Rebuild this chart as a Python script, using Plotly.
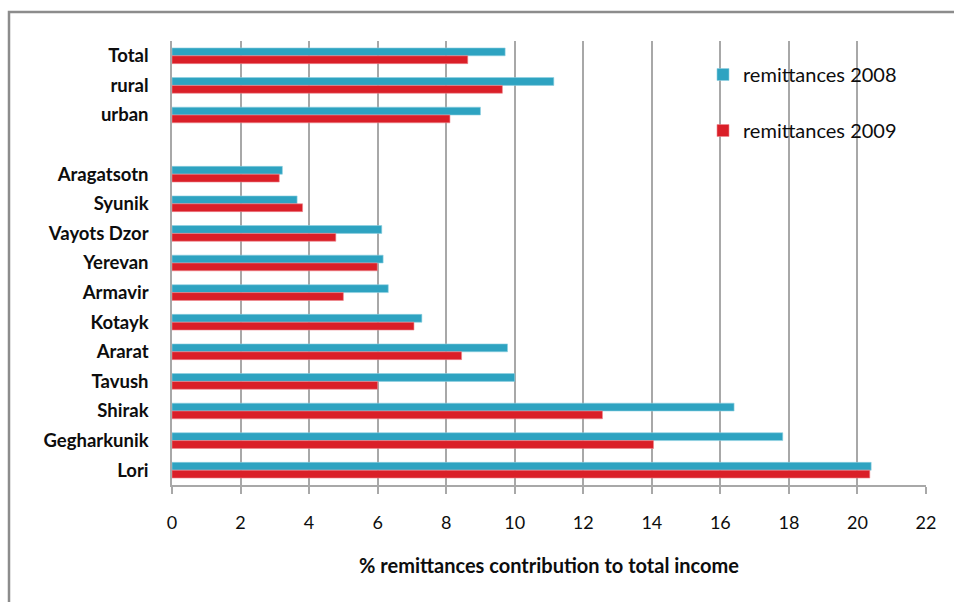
import plotly.graph_objects as go

# Regions / groupings, listed top to bottom (" " is a spacer row)
categories = ["Total", "rural", "urban", " ",
              "Aragatsotn", "Syunik", "Vayots Dzor", "Yerevan", "Armavir",
              "Kotayk", "Ararat", "Tavush", "Shirak", "Gegharkunik", "Lori"]

# % of total income coming from remittances
remit_2008 = [9.72, 11.14, 9.00, None,
              3.22, 3.65, 6.12, 6.16, 6.31,
              7.29, 9.79, 10.00, 16.40, 17.82, 20.40]
remit_2009 = [8.63, 9.64, 8.11, None,
              3.13, 3.81, 4.78, 5.99, 5.00,
              7.06, 8.45, 6.00, 12.56, 14.05, 20.36]

x_ticks = list(range(0, 23, 2))

BLUE = "#2ea3c1"
RED = "#da1f28"
GRID = "#a8a8a8"
FONT = "Lato"
TXT = "#0d0d0d"

fig = go.Figure()
fig.add_trace(go.Bar(
    y=categories, x=remit_2008, orientation="h", name="remittances 2008",
    marker=dict(color=BLUE, line=dict(color="#8fd0e0", width=0.6)),
    legendgroup="a",
))
fig.add_trace(go.Bar(
    y=categories, x=remit_2009, orientation="h", name="remittances 2009",
    marker=dict(color=RED, line=dict(color="#ef8a90", width=0.6)),
    legendgroup="b",
))

W, H = 954, 602
L, R, T, B = 172, 28, 41, 117
pw, ph = W - L - R, H - T - B

def px_x(x):
    return (x - L) / pw

def px_y(y):
    return 1 - (y - T) / ph

fig.update_layout(
    width=W, height=H,
    margin=dict(l=L, r=R, t=T, b=B),
    paper_bgcolor="white", plot_bgcolor="white",
    barmode="group", bargap=0.47, bargroupgap=0,
    font=dict(family=FONT, color=TXT),
    showlegend=True,
    legend=dict(
        x=px_x(703), y=px_y(55), xanchor="left", yanchor="top",
        bgcolor="rgba(0,0,0,0)", borderwidth=0,
        font=dict(family=FONT, size=20, color=TXT),
        tracegroupgap=27, itemwidth=30,
    ),
    xaxis=dict(
        range=[0, 22], tickvals=x_ticks, ticktext=[str(v) for v in x_ticks],
        showgrid=True, gridcolor=GRID, gridwidth=1.5,
        showline=True, linecolor=GRID, linewidth=1.5,
        ticks="outside", ticklen=7, tickcolor=GRID, tickwidth=1.5,
        ticklabelstandoff=14,
        tickfont=dict(family=FONT, size=18, color=TXT),
        zeroline=False,
        title=dict(text="<b>% remittances contribution to total income</b>",
                   font=dict(family=FONT, size=20, color=TXT), standoff=27),
    ),
    yaxis=dict(
        categoryorder="array", categoryarray=categories,
        autorange="reversed",
        showgrid=False, showline=True, linecolor=GRID, linewidth=1.5,
        ticks="", ticklabelstandoff=18,
        tickfont=dict(family=FONT, size=18.5, color=TXT, weight="bold"),
    ),
    shapes=[
        # white panel behind the legend, hiding the gridlines there
        dict(type="rect", xref="paper", yref="paper", layer="between",
             x0=px_x(712), x1=px_x(935), y0=px_y(152), y1=px_y(46),
             fillcolor="white", line=dict(width=0)),
        # outer chart frame
        dict(type="rect", xref="paper", yref="paper", layer="above",
             x0=px_x(9), x1=px_x(980), y0=px_y(640), y1=px_y(12),
             fillcolor="rgba(0,0,0,0)", line=dict(color="#8c8c8c", width=2.5)),
    ],
)

fig.write_html("out.html")
